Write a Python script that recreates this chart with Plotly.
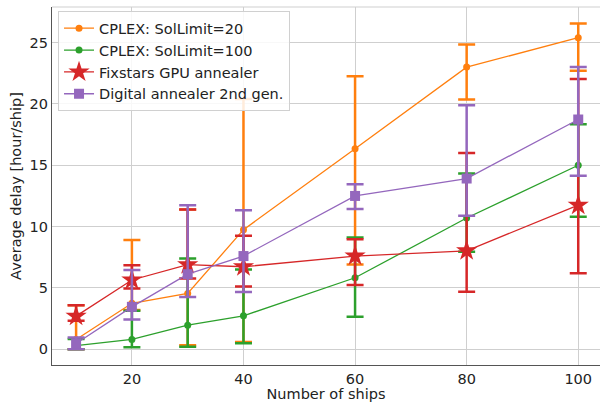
import plotly.graph_objects as go

ships = [10, 20, 30, 40, 60, 80, 100]

cplex20_mean = [0.8, 3.75, 4.55, 9.75, 16.35, 23.0, 25.4]
cplex20_low = [0.0, 3.2, 0.32, 0.6, 6.92, 20.36, 22.7]
cplex20_high = [3.6, 8.9, 11.4, 20.4, 22.25, 24.85, 26.55]

cplex100_mean = [0.3, 0.8, 1.97, 2.73, 5.83, 10.7, 15.0]
cplex100_low = [0.0, 0.17, 0.2, 0.49, 2.66, 7.95, 10.8]
cplex100_high = [0.84, 3.15, 7.4, 6.5, 9.12, 14.33, 18.35]

gpu_mean = [2.7, 5.65, 6.9, 6.73, 7.6, 8.03, 11.75]
gpu_low = [2.33, 4.95, 5.78, 5.12, 5.24, 4.69, 6.19]
gpu_high = [3.6, 6.85, 11.4, 9.25, 8.96, 16.0, 22.04]

da_mean = [0.47, 3.46, 6.12, 7.6, 12.5, 13.92, 18.73]
da_low = [0.0, 2.43, 4.27, 4.66, 11.43, 10.88, 14.14]
da_high = [0.97, 6.46, 11.75, 11.34, 13.46, 19.9, 23.0]

series = [
    ("CPLEX: SolLimit=20", cplex20_mean, cplex20_low, cplex20_high, "#ff7f0e", "circle", 7),
    ("CPLEX: SolLimit=100", cplex100_mean, cplex100_low, cplex100_high, "#2ca02c", "circle", 7),
    ("Fixstars GPU annealer", gpu_mean, gpu_low, gpu_high, "#d62728", "star", 16),
    ("Digital annealer 2nd gen.", da_mean, da_low, da_high, "#9467bd", "square", 10),
]

fig = go.Figure()
for i, (name, m, lo, hi, color, sym, size) in enumerate(series):
    fig.add_trace(go.Scatter(
        x=ships, y=m, name=name, mode="lines+markers",
        line=dict(color=color, width=1.3),
        marker=dict(color=color, symbol=sym, size=size, line=dict(width=0)),
        error_y=dict(type="data", symmetric=False,
                     array=[h - v for h, v in zip(hi, m)],
                     arrayminus=[v - l for v, l in zip(m, lo)],
                     color=color, thickness=2.5, width=8.5),
    ))

font = "DejaVu Sans, Verdana, sans-serif"
fig.update_layout(
    width=600, height=407,
    margin=dict(l=52, r=0, t=7, b=42),
    paper_bgcolor="white", plot_bgcolor="white",
    font=dict(family=font, size=14.5, color="#222"),
    showlegend=True,
    legend=dict(x=0.011, y=0.988, xanchor="left", yanchor="top",
                bgcolor="rgba(255,255,255,0.85)", bordercolor="#d0d0d0", borderwidth=1,
                font=dict(size=14.5, family=font), itemwidth=30),
    xaxis=dict(range=[5.68, 103.9], tickvals=[20, 40, 60, 80, 100],
               showgrid=True, gridcolor="#cfcfcf", gridwidth=1,
               showline=True, linecolor="#555", linewidth=1.2,
               zeroline=False, ticks="", tickfont=dict(size=14.5), automargin=False,
               title=dict(text="Number of ships", font=dict(size=14.5), standoff=2)),
    yaxis=dict(range=[-1.28, 27.9], tickvals=[0, 5, 10, 15, 20, 25],
               showgrid=True, gridcolor="#cfcfcf", gridwidth=1,
               showline=True, linecolor="#555", linewidth=1.2,
               zeroline=False, ticks="", tickfont=dict(size=14.5), automargin=False,
               title=dict(text="Average delay [hour/ship]", font=dict(size=14.5), standoff=4)),
)
fig.add_shape(type="line", xref="paper", yref="paper", x0=0, x1=1, y0=1, y1=1,
              line=dict(color="#cfcfcf", width=1))
fig.write_html("out.html", config={"displayModeBar": False},
               post_script="document.body.style.margin='0';document.body.style.overflow='hidden';")
